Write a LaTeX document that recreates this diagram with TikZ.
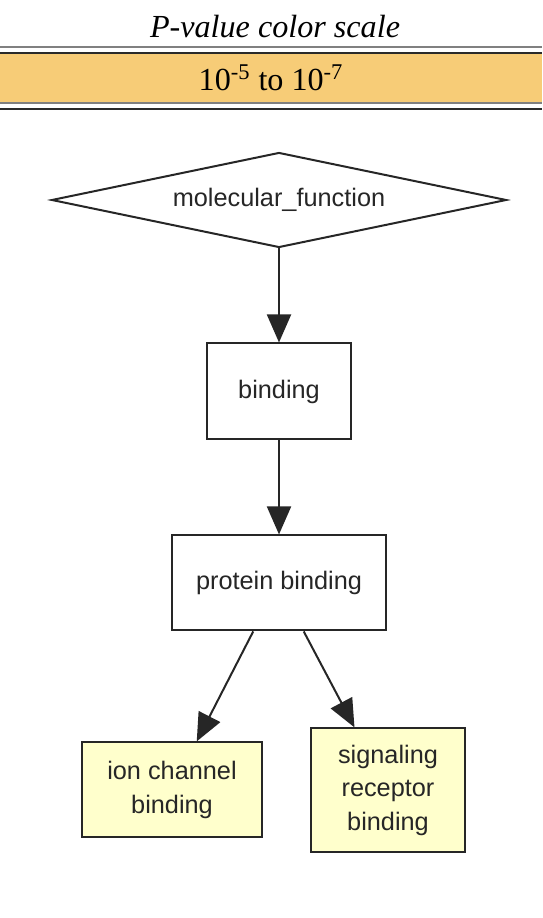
\documentclass[tikz,border=0pt]{standalone}
\usepackage{fontspec}
\setmainfont{Liberation Serif}
\newfontfamily\graphfont{Liberation Sans}
\usetikzlibrary{arrows.meta,positioning,shapes.geometric}
\definecolor{ScaleBand}{HTML}{F7CC77}
\definecolor{ScaleGray}{HTML}{808080}
\definecolor{ScaleDark}{HTML}{2A2A2A}
\definecolor{TermHit}{HTML}{FFFFCC}

\begin{document}
\begin{tikzpicture}[x=0.02cm,y=-0.02cm,node distance=1.88cm]
    \tikzset{term/.style={draw=black!85,line width=0.04cm,fill=white,align=center,inner sep=0pt,
      font=\graphfont\fontsize{14.4}{19}\selectfont,text=black!85},
      edge/.style={-{Triangle[length=0.56cm,width=0.48cm]},line width=0.04cm,draw=black!85}}
    \useasboundingbox (0,0) rectangle (542,918);
    % colour scale header
    \fill[ScaleBand] (0,54) rectangle (542,102);
    \fill[ScaleGray] (0,46) rectangle (542,48);
    \fill[ScaleDark] (0,52) rectangle (542,54);
    \fill[ScaleGray] (0,102) rectangle (542,104);
    \fill[ScaleDark] (0,108) rectangle (542,110);
    \node (title) at (275,27) {\fontsize{18.3}{22}\selectfont\itshape P-value color scale};
    \node (range) at (271,78) {\fontsize{18.3}{22}\selectfont 10\textsuperscript{-5} to 10\textsuperscript{-7}};
    % GO terms
    \node[term,diamond,aspect=4.76,minimum width=9.1cm,minimum height=1.9cm] (mf) at (279,200) {molecular\_function};
    \node[term,minimum width=2.9cm,minimum height=1.92cm,below=of mf] (bind) {binding};
    \node[term,minimum width=4.28cm,minimum height=1.9cm,below=of bind] (prot) {protein binding};
    \node[term,fill=TermHit,minimum width=3.6cm,minimum height=1.9cm,below=2.2cm of prot,xshift=-2.14cm] (ion) {ion channel\\binding};
    \node[term,fill=TermHit,minimum width=3.08cm,minimum height=2.48cm,below=1.92cm of prot,xshift=2.18cm] (sig) {signaling\\receptor\\binding};
    \draw[edge] (mf.south) -- (bind.north);
    \draw[edge] (bind.south) -- (prot.north);
    \draw[edge] (prot.-118) -- (ion.63);
    \draw[edge] (prot.-63) -- (sig.118);
  \end{tikzpicture}
\end{document}
